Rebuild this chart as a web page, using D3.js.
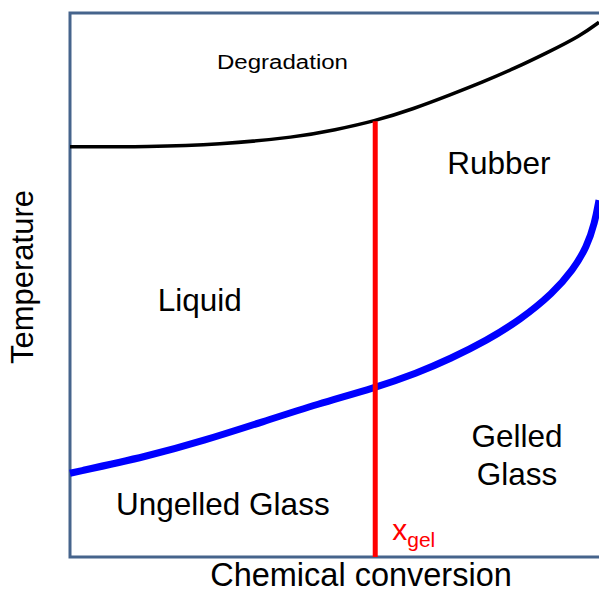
<!DOCTYPE html>
<html>
<head>
<meta charset="utf-8">
<script src="https://cdn.jsdelivr.net/npm/d3@7"></script>
<style>
  body { margin: 0; background: #fff; }
  text { font-family: "Liberation Sans", Arial, sans-serif; }
</style>
</head>
<body>
<svg></svg>
<script>
// Taille de la figure
const width = 599;
const height = 605;

// Frontière de dégradation (conversion, température relative)
const degConv = [0, 0.15, 0.28, 0.43, 0.50, 0.575, 0.65, 0.72, 0.78, 0.84, 0.90, 0.965, 1.0];
const degTemp = [75.4, 75.4, 75.8, 77.2, 78.5, 80.1, 82.4, 85.0, 87.3, 89.8, 92.6, 95.8, 98.3];

// Courbe de vitrification (Tg)
const tgConv = [0, 0.151, 0.25, 0.369, 0.467, 0.577, 0.656, 0.718, 0.788, 0.851, 0.913, 0.951, 0.977, 0.992, 1.0];
const tgTemp = [15.4, 18.6, 21.3, 25.0, 28.1, 31.1, 33.8, 36.4, 39.8, 43.6, 48.5, 52.8, 57.0, 61.4, 65.6];

// Point de gel
const gelConv = 0.577;
const gelTemp = 80.1;

// Étiquettes des régions
const regions = [
    { lines: ["Rubber"], conv: 0.713, temp: 70.4 },
    { lines: ["Liquid"], conv: 0.166, temp: 45.2 },
    { lines: ["Ungelled Glass"], conv: 0.087, temp: 7.7 },
    { lines: ["Gelled", "Glass"], conv: 0.845, temp: 20.2, anchor: "middle" }
];

const svg = d3.select("svg")
    .attr("width", width)
    .attr("height", height);

const x = d3.scaleLinear().domain([0, 1]).range([70, 599]);
const y = d3.scaleLinear().domain([0, 100]).range([557, 13]);

// Cadre (gauche, haut, bas)
svg.append("path")
    .attr("d", `M${x(1) + 5},${y(100)} H${x(0)} V${y(0)} H${x(1) + 5}`)
    .attr("fill", "none")
    .attr("stroke", "#46648c")
    .attr("stroke-width", 3);

const line = d3.line()
    .x(d => x(d[0]))
    .y(d => y(d[1]))
    .curve(d3.curveBasis);

svg.append("path")
    .datum(d3.zip(degConv, degTemp))
    .attr("d", line)
    .attr("fill", "none")
    .attr("stroke", "#000")
    .attr("stroke-width", 3.5);

svg.append("path")
    .datum(d3.zip(tgConv, tgTemp))
    .attr("d", line)
    .attr("fill", "none")
    .attr("stroke", "#0000ff")
    .attr("stroke-width", 7);

// Ligne de gel
svg.append("line")
    .attr("x1", x(gelConv))
    .attr("x2", x(gelConv))
    .attr("y1", y(gelTemp))
    .attr("y2", y(0))
    .attr("stroke", "#ff0000")
    .attr("stroke-width", 5);

const xg = svg.append("text")
    .attr("x", x(gelConv) + 17)
    .attr("y", 540)
    .attr("fill", "#ff0000")
    .style("font-size", "30px");
xg.append("tspan").text("x");
xg.append("tspan").attr("dy", 7).style("font-size", "21px").text("gel");

// Textes
svg.append("text")
    .attr("x", 217)
    .attr("y", 69)
    .attr("textLength", 131)
    .attr("lengthAdjust", "spacingAndGlyphs")
    .style("font-size", "20px")
    .text("Degradation");

regions.forEach(r => {
    r.lines.forEach((t, i) => {
        svg.append("text")
            .attr("x", x(r.conv))
            .attr("y", y(r.temp) + i * 38)
            .attr("text-anchor", r.anchor || "start")
            .style("font-size", "31.5px")
            .text(t);
    });
});

svg.append("text")
    .attr("x", 361)
    .attr("y", 586)
    .attr("text-anchor", "middle")
    .style("font-size", "32.5px")
    .text("Chemical conversion");

svg.append("text")
    .attr("transform", "translate(33,277) rotate(-90)")
    .attr("text-anchor", "middle")
    .style("font-size", "31px")
    .text("Temperature");
</script>
</body>
</html>
